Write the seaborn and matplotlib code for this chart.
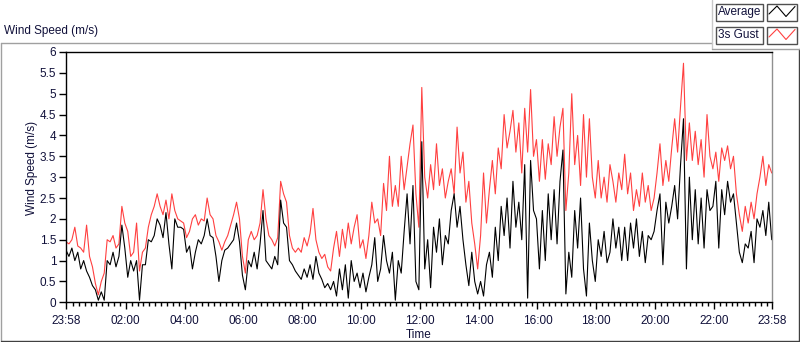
import numpy as np
import pandas as pd
import matplotlib
matplotlib.use("Agg")
import matplotlib.pyplot as plt
import seaborn as sns
from matplotlib.lines import Line2D
from matplotlib.patches import Rectangle

# wind speed (m/s), one value every 6 minutes from 23:58 to 23:58 next day
average = [
    1.25, 1.1, 1.3, 1.0, 1.2, 0.8, 1.0, 0.75, 0.6, 0.4,
    0.3, 0.05, 0.25, 0.05, 1.0, 0.9, 1.2, 0.85, 1.1, 1.85,
    1.3, 0.6, 1.0, 0.75, 1.0, 0.05, 0.9, 0.9, 1.5, 1.45,
    1.6, 2.0, 1.85, 1.55, 2.15, 1.4, 0.8, 2.0, 1.8, 1.8,
    1.75, 1.2, 1.35, 0.8, 1.2, 1.5, 1.4, 1.6, 2.0, 1.6,
    1.55, 1.1, 0.5, 1.0, 1.25, 1.3, 1.4, 1.5, 1.9, 1.45,
    0.65, 0.3, 1.0, 0.85, 1.2, 0.8, 1.4, 2.2, 1.0, 0.9,
    0.8, 1.1, 0.9, 2.45, 1.9, 1.8, 1.0, 0.9, 0.75, 0.65,
    0.55, 0.8, 0.6, 0.9, 0.55, 1.1, 0.7, 0.55, 0.35, 0.45,
    0.3, 0.5, 0.15, 0.8, 0.3, 0.9, 0.1, 1.0, 0.5, 0.7,
    0.35, 0.7, 0.25, 0.6, 0.9, 1.55, 0.5, 0.8, 1.6, 1.0,
    0.7, 1.2, 0.05, 1.0, 0.7, 1.7, 2.6, 1.4, 2.8, 0.5,
    0.3, 3.85, 0.8, 1.5, 0.35, 1.8, 1.2, 2.0, 0.9, 1.6,
    1.4, 2.2, 2.6, 1.8, 2.3, 1.5, 0.9, 0.4, 1.2, 0.5,
    0.2, 0.5, 0.15, 0.9, 1.2, 0.6, 1.8, 1.0, 2.3, 1.6,
    2.5, 1.3, 2.9, 1.8, 2.4, 1.5, 3.3, 0.1, 3.4, 2.2,
    2.0, 0.8, 2.2, 1.0, 2.6, 1.5, 2.7, 1.4, 2.9, 3.65,
    0.2, 1.2, 0.6, 2.2, 1.3, 2.5, 0.8, 0.15, 1.9, 1.0,
    0.5, 1.5, 1.1, 1.7, 0.95, 1.2, 2.0, 1.3, 1.8, 1.0,
    1.8, 1.0, 1.9, 1.3, 2.0, 1.1, 1.7, 0.95, 1.6, 1.5,
    1.7, 2.2, 2.6, 0.9, 2.4, 1.9, 2.3, 2.8, 2.0, 3.3,
    4.4, 0.8, 3.0, 1.5, 2.7, 1.4, 2.5, 1.3, 2.7, 2.2,
    2.3, 2.9, 1.3, 2.7, 2.1, 2.9, 2.4, 2.6, 1.9, 1.2,
    0.95, 1.4, 1.3, 1.7, 0.95, 2.0, 1.8, 2.2, 1.6, 2.4,
    1.5,
]
gust = [
    1.45, 1.4, 1.5, 1.8, 1.35, 1.3, 1.2, 1.85, 1.1, 0.85,
    0.45, 0.18, 0.5, 0.7, 1.5, 1.45, 1.6, 1.3, 1.4, 2.3,
    1.9, 1.7, 1.1, 1.2, 1.9, 0.75, 1.2, 1.3, 1.8, 2.1,
    2.3, 2.6, 2.3, 2.1, 2.45, 2.0, 2.6, 2.2, 2.0, 1.95,
    1.9, 1.55, 1.7, 2.0, 2.1, 1.85, 2.0, 1.95, 2.5, 2.1,
    2.0, 1.6, 1.45, 1.25, 1.45, 1.6, 1.85, 2.1, 2.4, 2.0,
    1.1, 0.7, 1.5, 1.7, 1.5, 1.6, 1.9, 2.7, 2.0, 1.6,
    1.5, 1.35, 1.55, 2.9, 2.6, 2.4, 1.6, 1.3, 1.2, 1.3,
    1.2, 1.55, 1.35, 1.65, 2.25, 1.5, 1.2, 1.05, 1.15, 0.85,
    0.75, 1.3, 1.7, 1.1, 1.75, 1.3, 1.9, 1.4, 1.8, 2.1,
    1.3, 1.5, 1.05, 1.6, 2.4, 1.9, 2.0, 1.6, 2.85, 2.2,
    3.5, 2.3, 2.8, 2.3, 3.5, 2.7, 3.25, 3.8, 4.25, 2.6,
    1.8, 5.15, 3.0, 2.5, 3.3, 2.7, 3.8, 2.8, 3.2, 2.5,
    2.9, 3.2, 2.6, 4.2, 3.1, 3.6, 2.4, 2.9, 1.9, 1.4,
    0.8, 1.6, 3.1, 1.9, 2.7, 3.4, 2.6, 3.7, 3.2, 4.5,
    3.7, 4.1, 4.6, 3.6, 4.3, 3.1, 4.65, 3.6, 5.1, 3.5,
    3.9, 2.9, 3.9, 2.95, 3.8, 3.3, 4.45, 3.5, 4.2, 4.65,
    2.2, 3.1, 5.0, 3.3, 4.0, 2.8, 4.5, 3.0, 4.4, 3.0,
    2.5, 3.4, 2.5, 3.0, 2.4, 3.3, 2.9, 2.4, 3.1, 2.7,
    3.55, 2.6, 3.1, 2.2, 2.7, 2.3, 3.1, 2.4, 2.8, 2.2,
    2.5, 3.1, 3.8, 2.8, 3.4, 2.9, 3.7, 4.4, 3.6, 4.7,
    5.73, 3.4, 4.3, 3.4, 4.1, 3.3, 3.9, 3.0, 4.5, 3.5,
    3.2, 3.6, 2.9, 3.7, 3.4, 3.75, 3.2, 3.5, 2.6, 2.1,
    1.7, 2.3, 1.9, 2.4, 2.0, 2.6, 3.0, 3.5, 2.8, 3.3,
    3.1,
]
hours = np.arange(len(average)) * 0.1  # hours since 23:58

x_labels = ['23:58', '02:00', '04:00', '06:00', '08:00', '10:00', '12:00',
            '14:00', '16:00', '18:00', '20:00', '22:00', '23:58']
y_labels = ['0', '0.5', '1', '1.5', '2', '2.5', '3', '3.5', '4', '4.5', '5', '5.5', '6']

df = pd.DataFrame({'hours': hours, 'Average': average, '3s Gust': gust})

sns.set_theme(style="white")
plt.rcParams['font.family'] = ['Liberation Sans', 'DejaVu Sans']
txt_col = '#10103a'

W, H = 800, 342
fig = plt.figure(figsize=(W / 100, H / 100), dpi=100)
fig.patch.set_facecolor('white')
ax = fig.add_axes([66 / W, 1 - 302.3 / H, (771.7 - 66) / W, (302.3 - 52) / H])

sns.lineplot(data=df, x='hours', y='3s Gust', ax=ax, color='#ff4040', lw=0.8)
sns.lineplot(data=df, x='hours', y='Average', ax=ax, color='black', lw=0.8)

ax.set_xlim(0, 24)
ax.set_ylim(0, 6)
ax.set_yticks(np.arange(0, 6.01, 0.5))
ax.set_yticklabels(y_labels)
x_major = [0] + [2 + 2 / 60 + 2 * k for k in range(11)] + [24]
ax.set_xticks(x_major)
ax.set_xticklabels(x_labels)
ax.set_xticks([2 / 60 + 0.2 * k for k in range(1, 120)], minor=True)
ax.tick_params(axis='both', which='major', direction='out', length=5, width=1,
               color='black', labelsize=8.5, labelcolor=txt_col)
ax.tick_params(axis='y', pad=2)
ax.tick_params(axis='x', which='major', pad=4)
ax.tick_params(axis='x', which='minor', direction='out', length=3, width=1,
               color='black', bottom=True)
ax.tick_params(left=True, bottom=True)
for side in ['left', 'bottom', 'top']:
    ax.spines[side].set_color('black')
    ax.spines[side].set_linewidth(1)
ax.spines['right'].set_color('#909090')
ax.spines['right'].set_linewidth(1)
ax.set_xlabel('')
ax.set_ylabel('')


def px(x, y):
    return x / W, 1 - y / H


def fline(xs, ys, color, lw=1):
    fx = [x / W for x in xs]
    fy = [1 - y / H for y in ys]
    fig.add_artist(Line2D(fx, fy, transform=fig.transFigure, color=color, lw=lw))


# outer frame of the graph
fline([0.5, 711.5], [42.5, 42.5], '#a0a0a0')
fline([0.5, 0.5], [42.5, 340.5], '#a0a0a0')
fline([0.5, 798.5], [340.5, 340.5], '#404040')
fline([798.5, 798.5], [49, 340.5], '#404040')
fline([711.5, 711.5], [0, 49], '#c8c8c8')
fline([711.5, 800], [49, 49], '#a0a0a0')

fig.text(4 / W, 1 - 31 / H, 'Wind Speed (m/s)', fontsize=8.5, color=txt_col, va='center', ha='left')
fig.text(32 / W, 1 - 168 / H, 'Wind Speed (m/s)', fontsize=8.5, color=txt_col,
         rotation=90, va='center', ha='center')
fig.text(419 / W, 1 - 334.5 / H, 'Time', fontsize=8.5, color=txt_col, va='center', ha='center')

# legend boxes
for i, (name, col) in enumerate([('Average', 'black'), ('3s Gust', '#ff4040')]):
    y0 = 4 + 23 * i
    fig.add_artist(Rectangle(px(716, y0 + 17), 47 / W, 17 / H, transform=fig.transFigure,
                             facecolor='white', edgecolor='#505050', lw=1))
    fig.add_artist(Rectangle(px(767, y0 + 17), 30 / W, 17 / H, transform=fig.transFigure,
                             facecolor='white', edgecolor='#505050', lw=1))
    fig.text(718 / W, 1 - (y0 + 8.5) / H, name, fontsize=8.5, color=txt_col, va='center', ha='left')
    fline([769, 777, 786, 795], [y0 + 10, y0 + 2, y0 + 12.5, y0 + 2.5], col, lw=0.8)

fig.savefig('out.png', dpi=100)
